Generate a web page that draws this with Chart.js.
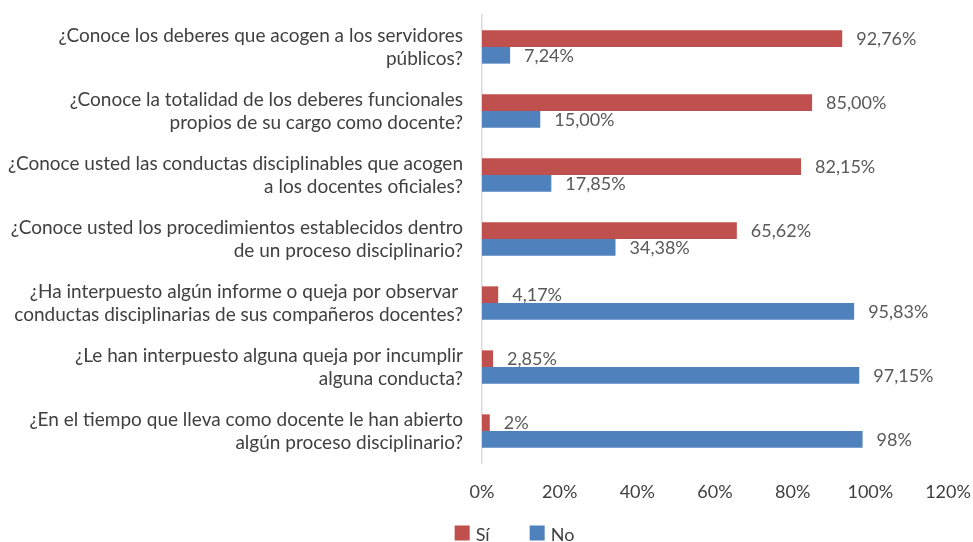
<!DOCTYPE html>
<html>
<head>
<meta charset="utf-8">
<script src="https://cdn.jsdelivr.net/npm/chart.js@4"></script>
<style>
  html, body { margin: 0; padding: 0; background: #fff; }
  #wrap { width: 973px; height: 542px; }
</style>
</head>
<body>
<div id="wrap"><canvas id="c"></canvas></div>
<script>
const categories = [
  ["¿Conoce los deberes que acogen a los servidores", "públicos?"],
  ["¿Conoce la totalidad de los deberes funcionales", "propios de su cargo como docente?"],
  ["¿Conoce usted las conductas disciplinables que acogen", "a los docentes oficiales?"],
  ["¿Conoce usted los procedimientos establecidos dentro", "de un proceso disciplinario?"],
  ["¿Ha interpuesto algún informe o queja por observar ", "conductas disciplinarias de sus compañeros docentes?"],
  ["¿Le han interpuesto alguna queja por incumplir", "alguna conducta?"],
  ["¿En el tiempo que lleva como docente le han abierto", "algún proceso disciplinario?"]
];
const siValues = [92.76, 85.00, 82.15, 65.62, 4.17, 2.85, 2];
const noValues = [7.24, 15.00, 17.85, 34.38, 95.83, 97.15, 98];
const siLabels = ["92,76%", "85,00%", "82,15%", "65,62%", "4,17%", "2,85%", "2%"];
const noLabels = ["7,24%", "15,00%", "17,85%", "34,38%", "95,83%", "97,15%", "98%"];
const xTicks = [0, 20, 40, 60, 80, 100, 120];
const seriesNames = ["Sí", "No"];
const seriesColors = ["#C0504D", "#4F81BD"];

const FONT = "Lato, 'Open Sans', sans-serif";

const dataLabelPlugin = {
  id: 'dataLabels',
  afterDatasetsDraw(chart) {
    const ctx = chart.ctx;
    const texts = [siLabels, noLabels];
    ctx.save();
    ctx.font = "18px " + FONT;
    ctx.fillStyle = "#595959";
    ctx.textAlign = "left";
    ctx.textBaseline = "middle";
    chart.data.datasets.forEach((ds, di) => {
      const meta = chart.getDatasetMeta(di);
      meta.data.forEach((bar, i) => {
        ctx.fillText(texts[di][i], bar.x + 14, bar.y + 1);
      });
    });
    ctx.restore();
  }
};

const legendPlugin = {
  id: 'bottomLegend',
  afterDraw(chart) {
    const ctx = chart.ctx;
    ctx.save();
    ctx.font = "18px " + FONT;
    ctx.textBaseline = "middle";
    ctx.textAlign = "left";
    const box = 15, gapText = 6, gapItem = 40;
    const items = chart.data.datasets.map(ds => ({ text: ds.label, color: ds.backgroundColor }));
    let total = 0;
    items.forEach((it, i) => {
      it.w = box + gapText + ctx.measureText(it.text).width;
      total += it.w + (i ? gapItem : 0);
    });
    let x = chart.width / 2 + 28 - total / 2;
    const cy = 533;
    items.forEach(it => {
      ctx.fillStyle = it.color;
      ctx.fillRect(x, cy - box / 2, box, box);
      ctx.fillStyle = '#404040';
      ctx.fillText(it.text, x + box + gapText, cy + 2);
      x += it.w + gapItem;
    });
    ctx.restore();
  }
};

new Chart(document.getElementById('c'), {
  type: 'bar',
  data: {
    labels: categories,
    datasets: [
      { label: seriesNames[0], data: siValues, backgroundColor: seriesColors[0],
        categoryPercentage: 0.52, barPercentage: 1.0 },
      { label: seriesNames[1], data: noValues, backgroundColor: seriesColors[1],
        categoryPercentage: 0.52, barPercentage: 1.0 }
    ]
  },
  options: {
    indexAxis: 'y',
    responsive: true,
    maintainAspectRatio: false,
    animation: false,
    layout: { padding: { top: 15, right: 0, left: 0, bottom: 0 } },
    scales: {
      x: {
        min: 0, max: 120,
        afterBuildTicks(scale) { scale.ticks = xTicks.map(v => ({ value: v })); },
        afterFit(scale) { scale.height = 79; scale.paddingRight = 25; scale.paddingLeft = 0; },
        ticks: {
          callback: v => v + '%',
          font: { family: FONT, size: 18 },
          color: '#404040',
          padding: 18,
          maxRotation: 0
        },
        grid: { display: false, drawTicks: false },
        border: { display: false }
      },
      y: {
        afterFit(scale) { scale.width = 482; scale.paddingTop = 0; scale.paddingBottom = 0; },
        ticks: {
          font: { family: FONT, size: 19, lineHeight: 1.2 },
          color: '#404040',
          padding: 19
        },
        grid: { display: false, drawTicks: false },
        border: { display: true, color: '#D9D9D9', width: 1.5 }
      }
    },
    plugins: {
      legend: { display: false },
      tooltip: { enabled: false }
    }
  },
  plugins: [dataLabelPlugin, legendPlugin]
});
</script>
</body>
</html>
